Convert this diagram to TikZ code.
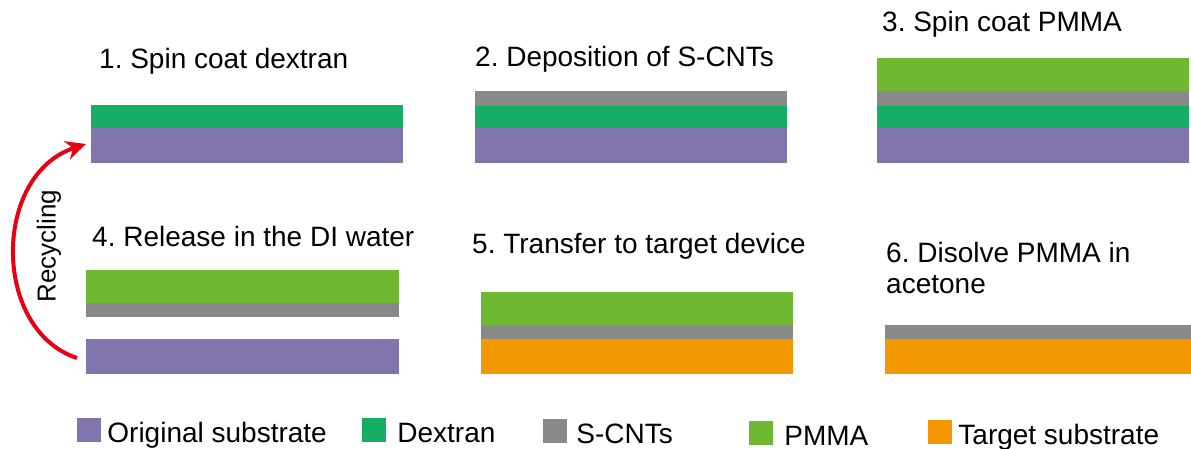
\documentclass[tikz,border=0pt]{standalone}
\usepackage{fontspec}
\setmainfont{Liberation Sans}
\usepackage{xcolor}
\usepackage{tikz}
\usetikzlibrary{arrows.meta, positioning}
\frenchspacing

\definecolor{origcol}{HTML}{8275AD}
\definecolor{dexcol}{HTML}{16AE64}
\definecolor{cntcol}{HTML}{898989}
\definecolor{pmmacol}{HTML}{6EB832}
\definecolor{targcol}{HTML}{F39800}
\definecolor{setacol}{HTML}{E60012}

\tikzset{
  origsub/.style={fill=origcol},
  dextran/.style={fill=dexcol},
  cnt/.style={fill=cntcol},
  pmma/.style={fill=pmmacol},
  targsub/.style={fill=targcol},
  titulo/.style={font=\fontsize{28}{31}\selectfont, inner sep=0pt, anchor=base west},
  chave/.style={minimum size=24pt, inner sep=0pt, draw=none},
  legenda/.style={font=\fontsize{28}{31}\selectfont, inner sep=0pt, anchor=base west},
}

\begin{document}
\begin{tikzpicture}[x=1pt, y=-1pt]
  \useasboundingbox (0,0) rectangle (1191,449);

  % Etapa 1: dextrana sobre o substrato
  \fill[dextran] (91,105) rectangle (403,128);
  \fill[origsub] (91,128) rectangle (403,163);
  \node[titulo] (t1) at (99,69) {1. Spin coat dextran};

  % Etapa 2: deposicao dos S-CNTs
  \fill[cnt]     (475,91)  rectangle (787,106);
  \fill[dextran] (475,106) rectangle (787,128);
  \fill[origsub] (475,128) rectangle (787,163);
  \node[titulo] (t2) at (475,67) {2. Deposition of S-CNTs};

  % Etapa 3: PMMA por cima
  \fill[pmma]    (877,58)  rectangle (1189,91);
  \fill[cnt]     (877,91)  rectangle (1189,106);
  \fill[dextran] (877,106) rectangle (1189,128);
  \fill[origsub] (877,128) rectangle (1189,163);
  \node[titulo] (t3) at (882,32) {3. Spin coat PMMA};

  % Etapa 4: filme solto e substrato livre
  \fill[pmma]    (86,270) rectangle (399,303);
  \fill[cnt]     (86,303) rectangle (399,317);
  \fill[origsub] (86,339) rectangle (399,374);
  \node[titulo] (t4) at (92,247) {4. Release in the DI water};

  % Etapa 5: transferencia
  \fill[pmma]    (481,292) rectangle (793,325);
  \fill[cnt]     (481,325) rectangle (793,339);
  \fill[targsub] (481,339) rectangle (793,374);
  \node[titulo] (t5) at (472,253) {5. Transfer to target device};

  % Etapa 6: sem PMMA
  \fill[cnt]     (885,325) rectangle (1191,339);
  \fill[targsub] (885,339) rectangle (1191,374);
  \node[titulo] (t6)  at (886,262) {6. Disolve PMMA in};
  \node[titulo] (t6b) at (886,293) {acetone};

  % Seta de reciclagem
  \coordinate (recA) at (77,358);
  \coordinate (recB) at (86,144);
  \draw[setacol, line width=4pt, -{Stealth[length=20pt, width=19pt]}]
    (recA) .. controls (-8,330) and (-8,175) .. (recB);
  \node[font=\fontsize{26}{28}\selectfont, rotate=90, inner sep=0pt] (rec) at (49,246) {Recycling};

  % Legenda
  \node[chave, fill=origcol] (kOrig) at (89,430) {};
  \node[legenda] (lOrig) at ([xshift=6pt]kOrig.south east) {Original substrate};
  \node[chave, fill=dexcol] (kDex) at (374,430) {};
  \node[legenda] (lDex) at ([xshift=11pt]kDex.south east) {Dextran};
  \node[chave, fill=cntcol] (kCnt) at (555,431) {};
  \node[legenda] (lCnt) at ([xshift=9pt]kCnt.south east) {S-CNTs};
  \node[chave, fill=pmmacol] (kPmma) at (761,433) {};
  \node[legenda] (lPmma) at ([xshift=11pt]kPmma.south east) {PMMA};
  \node[chave, fill=targcol] (kTarg) at (940,432) {};
  \node[legenda] (lTarg) at ([xshift=6pt]kTarg.south east) {Target substrate};
\end{tikzpicture}
\end{document}
